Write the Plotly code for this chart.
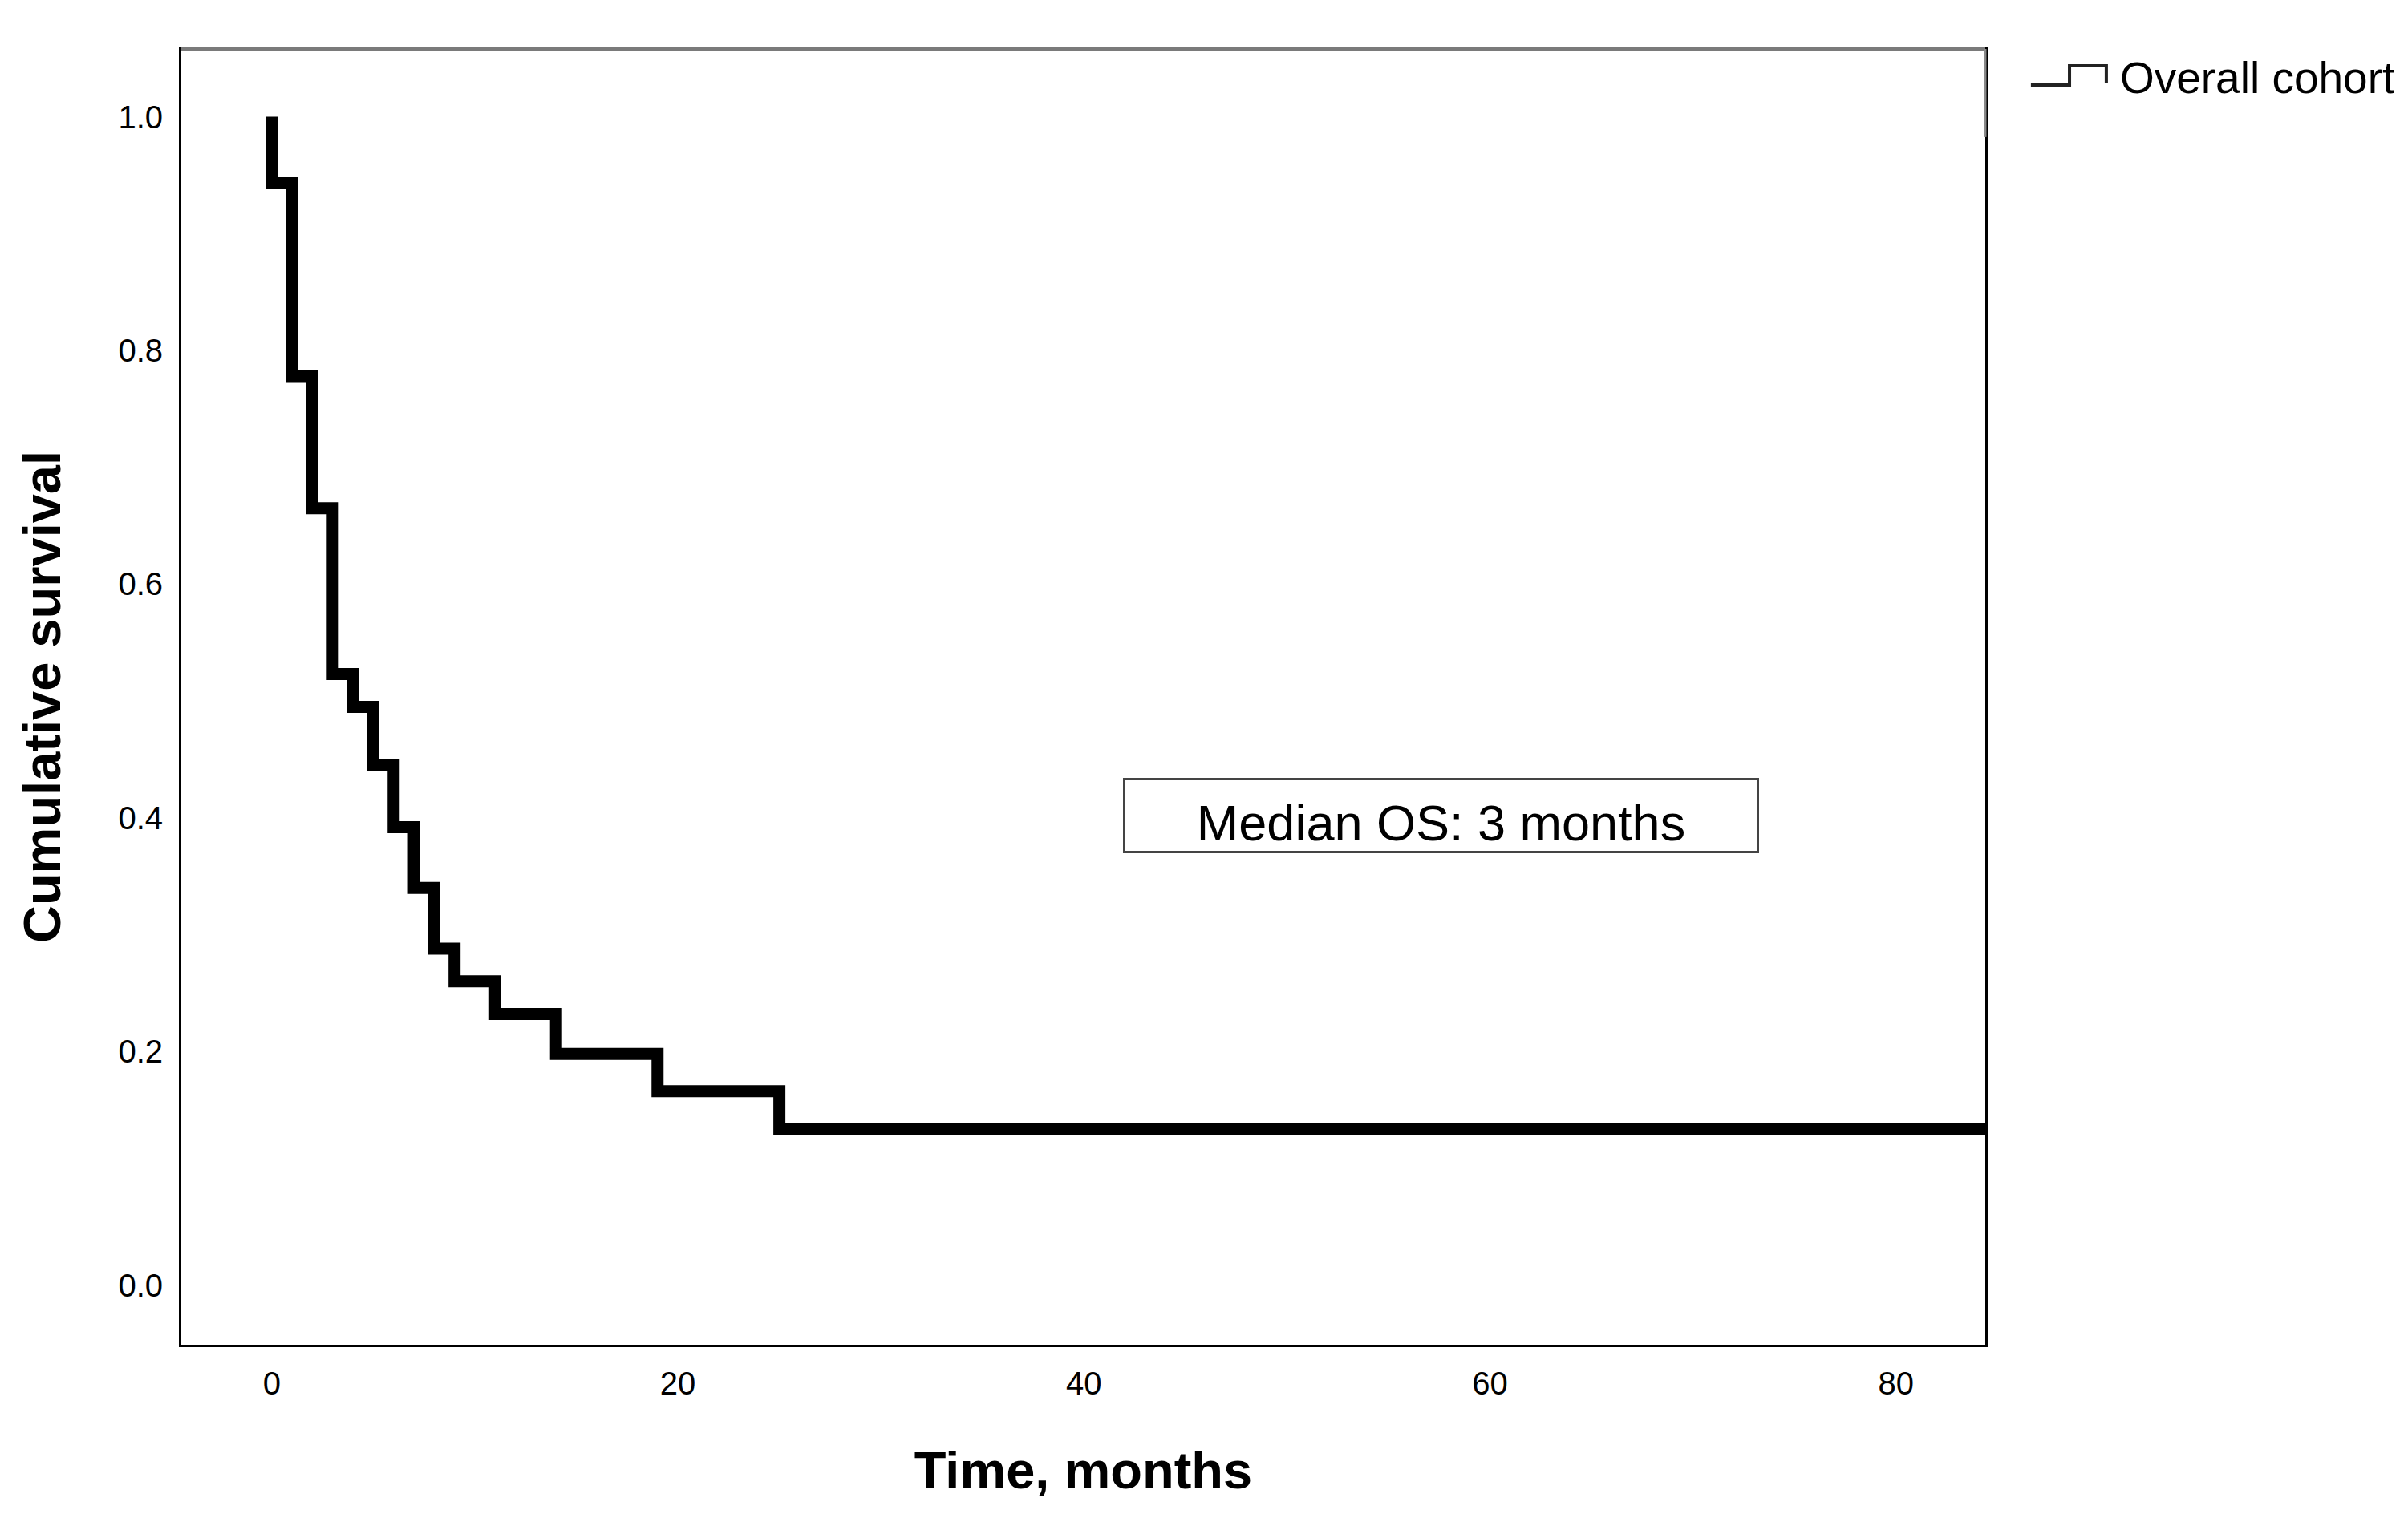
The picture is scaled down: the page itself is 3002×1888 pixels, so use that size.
import plotly.graph_objects as go

# Kaplan-Meier estimate
event_times = [0, 1, 2, 3, 4, 5, 6, 7, 8, 9, 11, 14, 19, 25]
survival = [0.943, 0.778, 0.665, 0.523, 0.495, 0.445, 0.392, 0.340, 0.288, 0.260, 0.232, 0.198, 0.166, 0.134]
start_survival = 1.0
last_followup = 86
series_name = "Overall cohort"
median_label = "Median OS: 3 months"

x_ticks = [0, 20, 40, 60, 80]
y_ticks = [0.0, 0.2, 0.4, 0.6, 0.8, 1.0]
y_tick_labels = ["0.0", "0.2", "0.4", "0.6", "0.8", "1.0"]

xs = [0] + event_times + [last_followup]
ys = [start_survival] + survival + [survival[-1]]

FONT = "Liberation Sans, Arial, sans-serif"

fig = go.Figure()
fig.add_trace(go.Scatter(
    x=xs, y=ys, mode="lines", line=dict(shape="hv", color="black", width=15),
    showlegend=False, hoverinfo="skip"))
# legend entry (symbol drawn as a step glyph below)
fig.add_trace(go.Scatter(
    x=[None], y=[None], mode="lines", name=series_name,
    line=dict(color="rgba(0,0,0,0)", width=3), showlegend=True))

fig.add_annotation(
    x=57.6, y=0.4025, xref="x", yref="y", text=median_label, showarrow=False,
    font=dict(family=FONT, size=63, color="black"),
    width=787, height=88, borderpad=0, bordercolor="#444444", borderwidth=3,
    bgcolor="white", valign="bottom", align="center", yshift=-1)

# step glyph for the legend (paper coordinates)
fig.add_shape(type="path", xref="paper", yref="paper",
              path="M 1.0253,0.9722 L 1.0467,0.9722 L 1.0467,0.9870 L 1.0671,0.9870 L 1.0671,0.9740",
              line=dict(color="#222222", width=4))
# lighter top frame segment as in the original
fig.add_shape(type="line", xref="paper", yref="paper", x0=0, x1=1, y0=1, y1=1,
              line=dict(color="#7a7a7a", width=4))
fig.add_shape(type="line", xref="paper", yref="paper", x0=1, x1=1, y0=1, y1=0.932,
              line=dict(color="#8a8a8a", width=3))

fig.update_layout(
    width=3002, height=1888,
    margin=dict(l=218, r=535, t=53, b=219),
    paper_bgcolor="white", plot_bgcolor="white",
    font=dict(family=FONT, color="black"),
    legend=dict(x=1.0302, y=1.0056, xanchor="left", yanchor="top",
                font=dict(size=55, family=FONT, color="black"),
                itemwidth=90, bgcolor="rgba(0,0,0,0)"),
)
fig.update_xaxes(
    range=[-4.46, 84.4], tickvals=x_ticks, showgrid=False, zeroline=False,
    showline=True, linecolor="black", linewidth=3, mirror=True,
    ticks="", ticklabelstandoff=11,
    tickfont=dict(size=40, family=FONT, color="black"),
    title=dict(text="<b>Time, months</b>", font=dict(size=65, family=FONT, color="black"), standoff=65))
fig.update_yaxes(
    range=[-0.051, 1.058], tickvals=y_ticks, ticktext=y_tick_labels, showgrid=False,
    zeroline=False, showline=True, linecolor="black", linewidth=3, mirror=True,
    ticks="", ticklabelstandoff=12,
    tickfont=dict(size=40, family=FONT, color="black"),
    title=dict(text="<b>Cumulative survival</b>", font=dict(size=65, family=FONT, color="black"), standoff=51))

fig.write_html("out.html")
